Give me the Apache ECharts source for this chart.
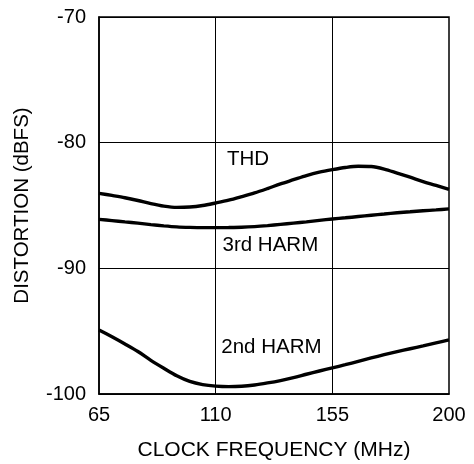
<!DOCTYPE html>
<html>
<head>
<meta charset="utf-8">
<script src="https://cdn.jsdelivr.net/npm/echarts@6/dist/echarts.min.js"></script>
<style>
html,body{margin:0;padding:0;background:#fff;}
#c{width:474px;height:464px;}
</style>
</head>
<body>
<div id="c"></div>
<script>
var freqMHz = [65, 70, 75, 80, 85, 90, 95, 100, 105, 110, 115, 120, 125, 130, 135, 140, 145, 150, 155, 160, 165, 170, 175, 180, 185, 190, 195, 200];
var thd   = [-84.03, -84.2, -84.38, -84.6, -84.85, -85.05, -85.15, -85.12, -85.0, -84.8, -84.58, -84.3, -84.0, -83.65, -83.28, -82.95, -82.62, -82.35, -82.15, -81.98, -81.88, -81.9, -82.1, -82.42, -82.75, -83.1, -83.4, -83.72];
var harm3 = [-86.1, -86.2, -86.3, -86.4, -86.52, -86.62, -86.7, -86.74, -86.76, -86.76, -86.75, -86.73, -86.68, -86.6, -86.5, -86.4, -86.3, -86.18, -86.07, -85.98, -85.88, -85.78, -85.68, -85.58, -85.5, -85.42, -85.35, -85.27];
var harm2 = [-94.9, -95.45, -96.02, -96.62, -97.32, -97.95, -98.55, -99.0, -99.25, -99.37, -99.41, -99.38, -99.28, -99.12, -98.93, -98.7, -98.43, -98.17, -97.92, -97.67, -97.4, -97.13, -96.87, -96.63, -96.4, -96.17, -95.93, -95.7];
var xTicks = [65, 110, 155, 200];
var yTicks = [-100, -90, -80, -70];
var seriesNames = ['THD', '3rd HARM', '2nd HARM'];
var labelPos = [[122.5, -81.3], [131.1, -88.15], [131.5, -96.25]];

function pairs(ys){ return freqMHz.map(function(x,i){ return [x, ys[i]]; }); }
var FONT = 'Liberation Sans, Arial, sans-serif';
var chart = echarts.init(document.getElementById('c'), null, {renderer:'canvas'});
var allY = [thd, harm3, harm2];
var series = allY.map(function(ys, k){
  return {
    name: seriesNames[k],
    type: 'line',
    smooth: 0.3,
    symbol: 'none',
    data: pairs(ys),
    lineStyle: {color: '#000', width: 3.4},
    z: 5,
    markPoint: {
      symbol: 'circle', symbolSize: 0,
      label: {show: true, position: 'inside', formatter: seriesNames[k], color: '#000', fontSize: 20.5, fontFamily: FONT},
      data: [{coord: labelPos[k]}]
    }
  };
});
series[0].markLine = {
  silent: true, symbol: 'none', animation: false,
  label: {show: false},
  lineStyle: {color: '#000', width: 1, type: 'solid'},
  data: xTicks.slice(1, -1).map(function(v){ return {xAxis: v}; })
};
chart.setOption({
  animation: false,
  backgroundColor: '#fff',
  grid: {left: 99, right: 25, top: 17, bottom: 70, containLabel: false, outerBoundsMode: 'none', show: true, borderColor: '#000', borderWidth: 1.5, backgroundColor: 'transparent'},
  xAxis: {
    type: 'value', min: xTicks[0], max: xTicks[xTicks.length-1],
    name: 'CLOCK FREQUENCY (MHz)', nameLocation: 'middle', nameGap: 46,
    nameTextStyle: {color: '#000', fontSize: 21, fontFamily: FONT},
    axisLine: {show: true, lineStyle: {color: '#000', width: 1.5}},
    axisTick: {show: false, customValues: xTicks},
    axisLabel: {customValues: xTicks, color: '#000', fontSize: 20, fontFamily: FONT, margin: 11},
    splitLine: {show: false}
  },
  yAxis: {
    type: 'value', min: yTicks[0], max: yTicks[yTicks.length-1], interval: 10,
    name: 'DISTORTION (dBFS)', nameLocation: 'middle', nameGap: 66,
    nameTextStyle: {color: '#000', fontSize: 20.5, fontFamily: FONT},
    axisLine: {show: true, lineStyle: {color: '#000', width: 1.5}},
    axisTick: {show: false},
    axisLabel: {color: '#000', fontSize: 20, fontFamily: FONT, margin: 13},
    splitLine: {show: true, lineStyle: {color: '#000', width: 1}}
  },
  series: series
});
</script>
</body>
</html>
